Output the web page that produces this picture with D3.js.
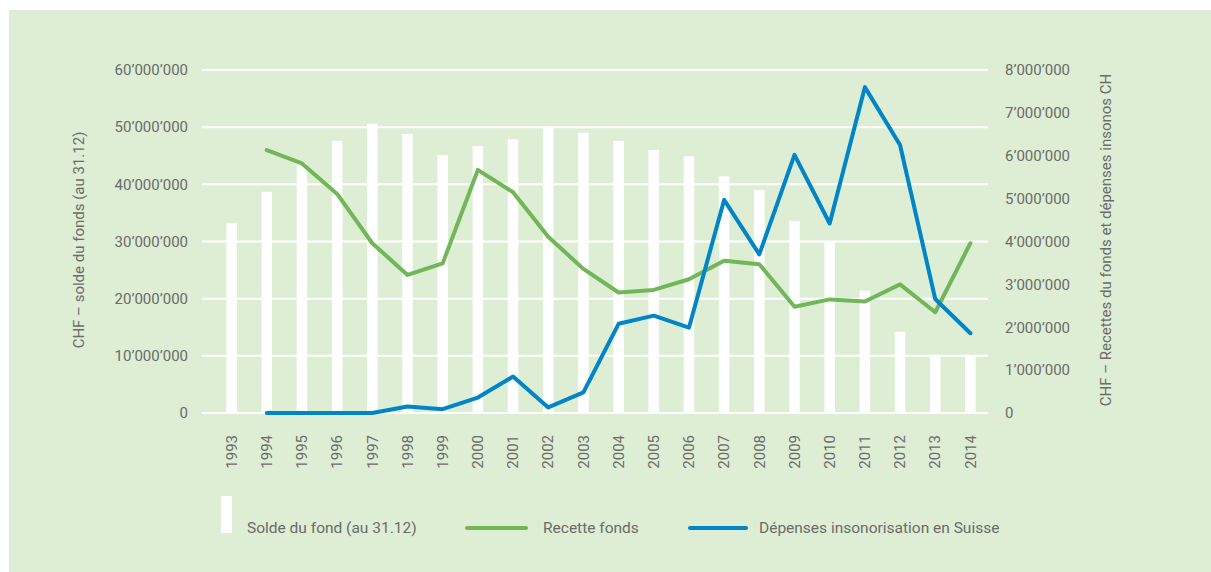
<!DOCTYPE html>
<html>
<head>
<meta charset="utf-8">
<script src="https://cdn.jsdelivr.net/npm/d3@7"></script>
<style>
  body { margin: 0; background: #fff; }
  text { font-family: Roboto, "Liberation Sans", sans-serif; fill: #6b6b6b; }
</style>
</head>
<body>
<div id="chart"></div>
<script>
// data
const years = ["1993","1994","1995","1996","1997","1998","1999","2000","2001","2002","2003",
               "2004","2005","2006","2007","2008","2009","2010","2011","2012","2013","2014"];
const solde = [33.2e6, 38.7e6, 43.8e6, 47.6e6, 50.6e6, 48.8e6, 45.1e6, 46.7e6, 47.9e6, 50.0e6, 49.0e6,
               47.6e6, 46.0e6, 44.9e6, 41.4e6, 39.0e6, 33.6e6, 30.1e6, 21.4e6, 14.2e6, 10.0e6, 10.0e6];
const recette = [null, 6.13e6, 5.82e6, 5.11e6, 3.96e6, 3.22e6, 3.49e6, 5.67e6, 5.15e6, 4.11e6, 3.36e6,
                 2.81e6, 2.87e6, 3.12e6, 3.55e6, 3.47e6, 2.48e6, 2.65e6, 2.60e6, 3.00e6, 2.35e6, 3.96e6];
const depenses = [null, 0, 0, 0, 0, 0.15e6, 0.09e6, 0.36e6, 0.85e6, 0.13e6, 0.48e6,
                  2.08e6, 2.27e6, 1.99e6, 4.97e6, 3.70e6, 6.02e6, 4.42e6, 7.60e6, 6.25e6, 2.66e6, 1.86e6];
const leftTicks = [0, 10e6, 20e6, 30e6, 40e6, 50e6, 60e6];
const rightTicks = [0, 1e6, 2e6, 3e6, 4e6, 5e6, 6e6, 7e6, 8e6];

const width = 1211, height = 572;
const green = "#71b658", blue = "#0085c8";

const svg = d3.select("#chart").append("svg")
    .attr("width", width)
    .attr("height", height);

svg.append("rect")
    .attr("x", 9).attr("y", 10)
    .attr("width", width - 9).attr("height", height - 10)
    .attr("fill", "#ddeed4");

const fmt = d3.formatLocale({decimal: ".", thousands: "\u2019", grouping: [3], currency: ["", ""]}).format(",");

const x = d3.scaleBand().domain(years).range([214, 988]);
const yL = d3.scaleLinear().domain([0, 60e6]).range([413, 70]);
const yR = d3.scaleLinear().domain([0, 8e6]).range([413, 70]);
const cx = yr => x(yr) + x.bandwidth() / 2;

// gridlines
svg.append("g").selectAll("line").data(leftTicks).join("line")
    .attr("x1", 202).attr("x2", 988)
    .attr("y1", d => yL(d)).attr("y2", d => yL(d))
    .attr("stroke", "#fff").attr("stroke-width", 2);

// bars
const bw = 10.5;
svg.append("g").selectAll("rect").data(solde).join("rect")
    .attr("x", (d, i) => cx(years[i]) - bw / 2)
    .attr("y", d => yL(d))
    .attr("width", bw)
    .attr("height", d => yL(0) - yL(d))
    .attr("fill", "#fff");

// axes
const leftAxis = svg.append("g")
    .attr("transform", "translate(202,0)")
    .call(d3.axisLeft(yL).tickValues(leftTicks).tickFormat(fmt).tickSize(0).tickPadding(14));
const rightAxis = svg.append("g")
    .attr("transform", "translate(988,0)")
    .call(d3.axisRight(yR).tickValues(rightTicks).tickFormat(fmt).tickSize(0).tickPadding(17));
const bottomAxis = svg.append("g")
    .attr("transform", "translate(0,413)")
    .call(d3.axisBottom(x).tickSize(0));
[leftAxis, rightAxis, bottomAxis].forEach(a => {
  a.select(".domain").remove();
  a.selectAll("text").attr("font-size", 15).attr("fill", "#6b6b6b")
      .style("font-family", "Roboto, sans-serif");
});
bottomAxis.selectAll("text")
    .attr("transform", "rotate(-90)")
    .attr("text-anchor", "end")
    .attr("x", -22).attr("y", 0).attr("dy", "0.35em");

// lines
const lineR = d3.line()
    .defined(d => d[1] != null)
    .x(d => cx(d[0]))
    .y(d => yR(d[1]));

[[recette, green], [depenses, blue]].forEach(([vals, col]) => {
  svg.append("path")
      .attr("d", lineR(years.map((yr, i) => [yr, vals[i]])))
      .attr("fill", "none").attr("stroke", col).attr("stroke-width", 4)
      .attr("stroke-linejoin", "round").attr("stroke-linecap", "round");
});

// axis titles
svg.append("text")
    .attr("transform", "translate(84,240) rotate(-90)")
    .attr("text-anchor", "middle")
    .attr("font-size", 15)
    .text("CHF \u2013 solde du fonds (au 31.12)");
svg.append("text")
    .attr("transform", "translate(1111,240) rotate(-90)")
    .attr("text-anchor", "middle")
    .attr("font-size", 15)
    .text("CHF \u2013 Recettes du fonds et d\u00e9penses insonos CH");

// legend
const leg = svg.append("g").attr("font-size", 15.5);
leg.append("rect").attr("x", 221).attr("y", 496).attr("width", 11).attr("height", 37).attr("fill", "#fff");
leg.append("text").attr("x", 247).attr("y", 528).attr("dy", "0.35em")
    .text("Solde du fond (au 31.12)");
leg.append("line").attr("x1", 467).attr("x2", 526).attr("y1", 528).attr("y2", 528)
    .attr("stroke", green).attr("stroke-width", 4).attr("stroke-linecap", "round");
leg.append("text").attr("x", 543).attr("y", 528).attr("dy", "0.35em")
    .text("Recette fonds");
leg.append("line").attr("x1", 690).attr("x2", 746).attr("y1", 528).attr("y2", 528)
    .attr("stroke", blue).attr("stroke-width", 4).attr("stroke-linecap", "round");
leg.append("text").attr("x", 759).attr("y", 528).attr("dy", "0.35em")
    .text("D\u00e9penses insonorisation en Suisse");
</script>
</body>
</html>
